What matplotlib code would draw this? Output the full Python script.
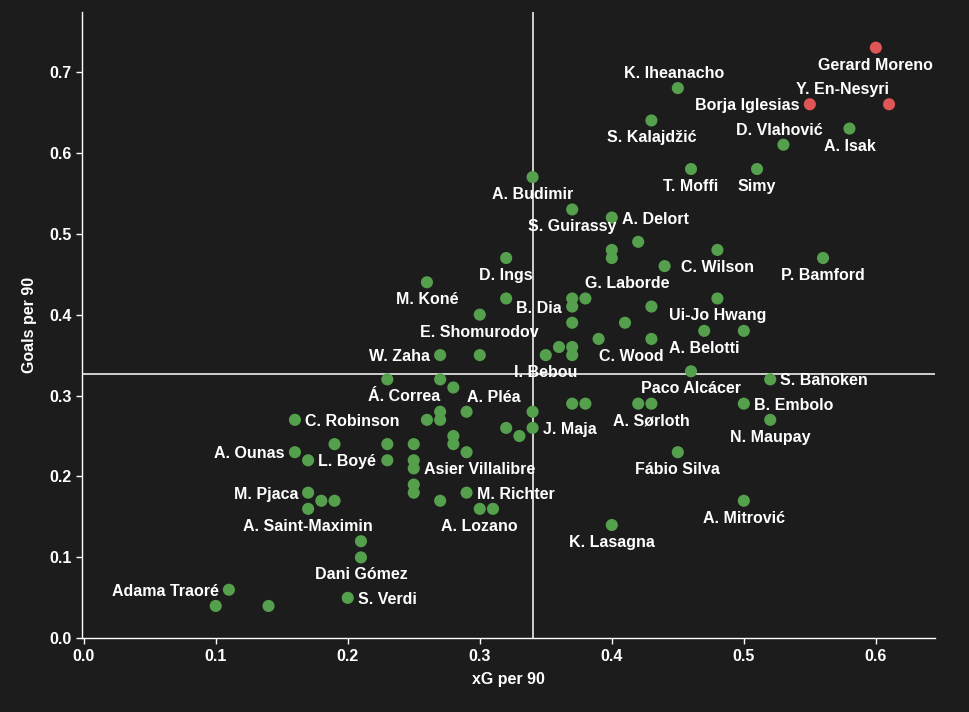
import matplotlib.pyplot as plt
import numpy as np

plt.rcParams['font.family'] = ['Liberation Sans', 'DejaVu Sans']
plt.rcParams['font.weight'] = 'bold'

# player data: xG per 90, goals per 90 ('' = no label)
names = ['Gerard Moreno', 'Y. En-Nesyri', 'Borja Iglesias', 'K. Iheanacho', 'S. Kalajdžić',
         'D. Vlahović', 'A. Isak', 'T. Moffi', 'Simy', 'A. Budimir',
         'S. Guirassy', 'A. Delort', '', '', '', 'C. Wilson', '', 'P. Bamford', 'D. Ings', 'M. Koné',
         '', '', 'G. Laborde', 'B. Dia', '', 'Ui-Jo Hwang', 'E. Shomurodov', '', '', 'A. Belotti',
         '', '', 'C. Wood', '', '', '', 'I. Bebou', 'W. Zaha', '', 'Paco Alcácer',
         'S. Bahoken', '', 'Á. Correa', '', 'B. Embolo', '', 'A. Sørloth', '', '', '',
         'A. Pléa', '', '', '', 'C. Robinson', 'N. Maupay', 'J. Maja', '', '', '',
         '', '', '', '', 'A. Ounas', '', 'Fábio Silva', 'L. Boyé', '', '',
         'Asier Villalibre', '', '', 'M. Pjaca', 'M. Richter', '', '', '', 'A. Mitrović', 'A. Saint-Maximin',
         'A. Lozano', '', 'K. Lasagna', '', 'Dani Gómez', 'Adama Traoré', '', '', 'S. Verdi']
xg = [0.60, 0.61, 0.55, 0.45, 0.43, 0.53, 0.58, 0.46, 0.51, 0.34,
      0.37, 0.40, 0.42, 0.40, 0.40, 0.48, 0.44, 0.56, 0.32, 0.26,
      0.32, 0.37, 0.38, 0.37, 0.43, 0.48, 0.30, 0.37, 0.41, 0.47,
      0.50, 0.43, 0.39, 0.36, 0.37, 0.37, 0.35, 0.27, 0.30, 0.46,
      0.52, 0.23, 0.27, 0.28, 0.50, 0.42, 0.43, 0.37, 0.38, 0.27,
      0.29, 0.34, 0.26, 0.27, 0.16, 0.52, 0.34, 0.32, 0.33, 0.28,
      0.28, 0.19, 0.23, 0.25, 0.16, 0.29, 0.45, 0.17, 0.23, 0.25,
      0.25, 0.25, 0.25, 0.17, 0.29, 0.18, 0.19, 0.27, 0.50, 0.17,
      0.30, 0.31, 0.40, 0.21, 0.21, 0.11, 0.10, 0.14, 0.20]
goals = [0.73, 0.66, 0.66, 0.68, 0.64, 0.61, 0.63, 0.58, 0.58, 0.57,
         0.53, 0.52, 0.49, 0.48, 0.47, 0.48, 0.46, 0.47, 0.47, 0.44,
         0.42, 0.42, 0.42, 0.41, 0.41, 0.42, 0.40, 0.39, 0.39, 0.38,
         0.38, 0.37, 0.37, 0.36, 0.36, 0.35, 0.35, 0.35, 0.35, 0.33,
         0.32, 0.32, 0.32, 0.31, 0.29, 0.29, 0.29, 0.29, 0.29, 0.28,
         0.28, 0.28, 0.27, 0.27, 0.27, 0.27, 0.26, 0.26, 0.25, 0.25,
         0.24, 0.24, 0.24, 0.24, 0.23, 0.23, 0.23, 0.22, 0.22, 0.22,
         0.21, 0.19, 0.18, 0.18, 0.18, 0.17, 0.17, 0.17, 0.17, 0.16,
         0.16, 0.16, 0.14, 0.12, 0.10, 0.06, 0.04, 0.04, 0.05]
highlight = ['Gerard Moreno', 'Y. En-Nesyri', 'Borja Iglesias']
mean_xg = 0.34
mean_goals = 0.327

# label placement: b below, a above, l left, r right, al/ar above ending/starting at dot,
# bl/br below ending/starting at dot
placement = {'Y. En-Nesyri': 'al', 'Borja Iglesias': 'l', 'K. Iheanacho': 'a', 'D. Vlahović': 'a',
             'A. Delort': 'r', 'G. Laborde': 'ar', 'B. Dia': 'l', 'W. Zaha': 'l', 'C. Wood': 'br',
             'Á. Correa': 'bl', 'A. Pléa': 'ar', 'S. Bahoken': 'r', 'B. Embolo': 'r',
             'C. Robinson': 'r', 'J. Maja': 'r', 'A. Ounas': 'l', 'L. Boyé': 'r',
             'Asier Villalibre': 'r', 'M. Pjaca': 'l', 'M. Richter': 'r', 'Adama Traoré': 'l',
             'S. Verdi': 'r'}

bg = '#1c1c1c'
px = 0.72  # points per pixel at dpi 100

fig = plt.figure(figsize=(9.7, 7.12), dpi=100, facecolor=bg)
ax = fig.add_axes([0.0849, 0.1035, 0.8793, 0.8796], facecolor=bg)

colors = ['#e05555' if n in highlight else '#55a04c' for n in names]
ax.scatter(xg, goals, s=76, c=colors, linewidths=0, zorder=3)

ax.axvline(mean_xg, color='#dddddd', lw=1.3, zorder=2)
ax.axhline(mean_goals, color='#dddddd', lw=1.3, zorder=2)

for n, x, y in zip(names, xg, goals):
    if not n:
        continue
    p = placement.get(n, 'b')
    if p == 'b':
        off, ha = (0, -16), 'center'
    elif p == 'a':
        off, ha = (-4, 16), 'center'
    elif p == 'l':
        off, ha = (-10, 0), 'right'
    elif p == 'r':
        off, ha = (10, 0), 'left'
    elif p == 'al':
        off, ha = (0, 16), 'right'
    elif p == 'ar':
        off, ha = (0, 16), 'left'
    elif p == 'bl':
        off, ha = (0, -16), 'right'
    else:
        off, ha = (0, -16), 'left'
    ax.annotate(n, (x, y), xytext=(off[0] * px, off[1] * px), textcoords='offset points',
                ha=ha, va='center_baseline', color='white', fontsize=11.5, fontweight='bold',
                zorder=4)

ax.set_xlim(-0.001, 0.645)
ax.set_ylim(0, 0.774)
ax.set_xticks(np.arange(0, 0.61, 0.1))
ax.set_yticks(np.arange(0, 0.71, 0.1))
ax.xaxis.set_major_formatter(plt.FormatStrFormatter('%.1f'))
ax.yaxis.set_major_formatter(plt.FormatStrFormatter('%.1f'))
ax.tick_params(colors='white', labelcolor='white', length=4.5, width=1, labelsize=11.5, pad=3)
for lab in ax.get_xticklabels() + ax.get_yticklabels():
    lab.set_fontweight('bold')

for s in ['top', 'right']:
    ax.spines[s].set_visible(False)
for s in ['left', 'bottom']:
    ax.spines[s].set_color('white')
    ax.spines[s].set_linewidth(1)

ax.set_xlabel('xG per 90', color='white', fontsize=11.5, fontweight='bold', labelpad=6)
ax.set_ylabel('Goals per 90', color='white', fontsize=11.5, fontweight='bold', labelpad=9)

plt.savefig('out.png', dpi=100, facecolor=bg)
